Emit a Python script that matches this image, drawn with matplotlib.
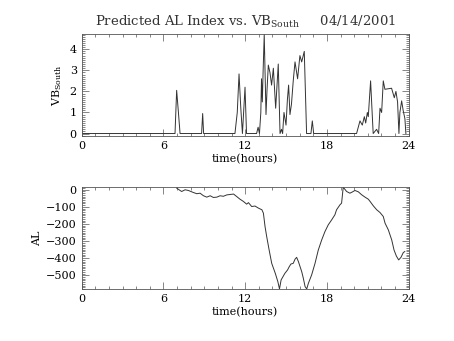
import matplotlib
matplotlib.use("Agg")
import matplotlib.pyplot as plt
from matplotlib.ticker import MultipleLocator

# VB_South (hours, value)
vb_hours = [0.0, 6.85, 6.97, 7.1, 7.22, 8.8, 8.88, 8.95, 11.25, 11.42, 11.55, 11.68, 11.8,
            11.99, 12.1, 12.84, 12.95, 13.05, 13.15, 13.2, 13.26, 13.32, 13.4, 13.53, 13.6,
            13.7, 13.82, 13.94, 14.07, 14.24, 14.43, 14.56, 14.67, 14.75, 14.85, 15.0, 15.1,
            15.19, 15.29, 15.4, 15.53, 15.66, 15.85, 16.02, 16.15, 16.34, 16.51, 16.83, 16.93,
            17.03, 20.18, 20.43, 20.6, 20.75, 20.85, 20.97, 21.04, 21.11, 21.21, 21.33, 21.4,
            21.65, 21.8, 21.9, 22.02, 22.14, 22.26, 22.75, 22.95, 23.07, 23.19, 23.29, 23.36,
            23.49, 23.6, 23.73, 23.8]
vb_south = [0.0, 0.0, 2.05, 1.0, 0.0, 0.0, 0.95, 0.0, 0.0, 1.0, 2.83, 1.2, 0.0,
            2.2, 0.0, 0.0, 0.3, 0.0, 1.0, 2.6, 1.5, 3.0, 4.7, 0.9, 2.0,
            3.25, 2.9, 2.3, 3.1, 1.2, 3.3, 0.0, 0.2, 0.0, 1.0, 0.4, 1.6,
            2.3, 0.9, 1.4, 2.5, 3.4, 2.6, 3.7, 3.4, 3.9, 0.0, 0.0, 0.6,
            0.0, 0.0, 0.6, 0.4, 0.8, 0.5, 1.0, 0.8, 1.5, 2.5, 0.9, 0.0,
            0.2, 0.0, 1.2, 1.0, 2.5, 2.1, 2.15, 1.7, 2.0, 1.5, 0.0, 1.0,
            1.55, 1.1, 0.7, 0.0]

# Predicted AL index (hours, nT)
al_hours = [6.97, 7.22, 7.34, 7.59, 7.83, 8.2, 8.45, 8.69, 8.94, 9.18, 9.43, 9.67, 9.92,
            10.16, 10.4, 10.65, 11.15, 11.62, 11.87, 12.11, 12.24, 12.48, 12.72, 12.97,
            13.23, 13.34, 13.46, 13.58, 13.76, 13.95, 14.21, 14.4, 14.52, 14.64, 14.92,
            15.11, 15.24, 15.36, 15.53, 15.66, 15.78, 15.91, 16.03, 16.15, 16.27, 16.4,
            16.52, 16.64, 16.88, 17.13, 17.37, 17.62, 17.86, 18.1, 18.35, 18.59, 18.71,
            18.96, 19.08, 19.2, 19.45, 19.69, 19.89, 20.06, 20.31, 20.55, 20.8, 21.04,
            21.17, 21.41, 21.66, 21.9, 22.14, 22.27, 22.51, 22.76, 22.93, 23.1, 23.27,
            23.44, 23.61, 23.72]
al = [10, -4, -10, 0, -4, -16, -23, -20, -35, -43, -35, -45, -43,
      -35, -38, -30, -25, -55, -68, -84, -75, -98, -95, -107,
      -117, -137, -215, -273, -352, -430, -488, -537, -580, -527,
      -488, -469, -449, -434, -430, -406, -395, -420, -449, -478, -517,
      -566, -580, -547, -498, -430, -352, -293, -244, -205, -176, -146,
      -117, -88, -78, 15, -10, -20, -12, -4, -12, -29, -43, -55,
      -68, -94, -117, -133, -156, -195, -234, -293, -352, -387,
      -410, -395, -367, -361]

plt.rcParams["font.family"] = ["DejaVu Serif"]
plt.rcParams["mathtext.fontset"] = "dejavuserif"

fig = plt.figure(figsize=(4.54, 3.41), dpi=100)
ax1 = fig.add_axes([0.180, 0.601, 0.720, 0.299])
ax2 = fig.add_axes([0.180, 0.1525, 0.720, 0.2985])

ax1.plot(vb_hours, vb_south, color="#333333", lw=0.7)
ax1.set_xlim(0, 24)
ax1.set_ylim(-0.12, 4.72)
ax1.yaxis.set_major_locator(MultipleLocator(1))
ax1.yaxis.set_minor_locator(MultipleLocator(0.1))
ax1.set_ylabel(r"VB$_{\mathrm{South}}$", fontsize=8, labelpad=4)
ax1.set_title(r"Predicted AL Index vs. VB$_{\mathrm{South}}$     04/14/2001",
              fontsize=9.5, pad=6, color="#333333")

ax2.plot(al_hours, al, color="#333333", lw=0.7)
ax2.set_xlim(0, 24)
ax2.set_ylim(-580, 15)
ax2.yaxis.set_major_locator(MultipleLocator(100))
ax2.yaxis.set_minor_locator(MultipleLocator(10))
ax2.set_ylabel("AL", fontsize=8, labelpad=3)

for ax in (ax1, ax2):
    ax.xaxis.set_major_locator(MultipleLocator(6))
    ax.xaxis.set_minor_locator(MultipleLocator(1))
    ax.set_xlabel("time(hours)", fontsize=8, labelpad=2)
    ax.tick_params(which="both", direction="in", top=True, right=True, labelsize=8,
                   width=0.5, color="#555555")
    ax.tick_params(which="major", length=5)
    ax.tick_params(which="minor", length=2.5)
    for s in ax.spines.values():
        s.set_linewidth(0.6)
        s.set_color("#555555")

fig.savefig("out.png", dpi=100)
